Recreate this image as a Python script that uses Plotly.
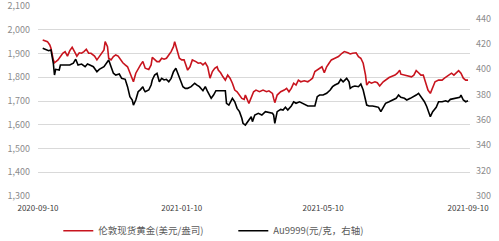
import plotly.graph_objects as go

# London spot gold (USD/oz), left axis
red_dates = ["2020-09-14","2020-09-18","2020-09-20","2020-09-21","2020-09-23","2020-09-24","2020-09-27","2020-09-29",
 "2020-10-01","2020-10-03","2020-10-05","2020-10-07","2020-10-09","2020-10-11","2020-10-13","2020-10-15","2020-10-17",
 "2020-10-19","2020-10-21","2020-10-23","2020-10-25","2020-10-28","2020-10-30","2020-11-01","2020-11-03","2020-11-05",
 "2020-11-06","2020-11-08","2020-11-09","2020-11-11","2020-11-13","2020-11-15","2020-11-17","2020-11-19","2020-11-21",
 "2020-11-23","2020-11-25","2020-11-27","2020-11-29","2020-11-30","2020-12-02","2020-12-04","2020-12-06","2020-12-08",
 "2020-12-10","2020-12-13","2020-12-15","2020-12-16","2020-12-18","2020-12-20","2020-12-22","2020-12-24","2020-12-26",
 "2020-12-28","2020-12-30","2021-01-01","2021-01-03","2021-01-04","2021-01-06","2021-01-08","2021-01-10","2021-01-12",
 "2021-01-13","2021-01-15","2021-01-17","2021-01-19","2021-01-22","2021-01-24","2021-01-26","2021-01-28","2021-01-30",
 "2021-02-01","2021-02-03","2021-02-05","2021-02-07","2021-02-09","2021-02-10","2021-02-12","2021-02-14","2021-02-16",
 "2021-02-18","2021-02-20","2021-02-22","2021-02-24","2021-02-26","2021-02-28","2021-03-02","2021-03-04","2021-03-05",
 "2021-03-08","2021-03-10","2021-03-12","2021-03-14","2021-03-17","2021-03-20","2021-03-23","2021-03-25","2021-03-28",
 "2021-03-29","2021-03-30","2021-04-01","2021-04-04","2021-04-07","2021-04-09","2021-04-11","2021-04-13","2021-04-15",
 "2021-04-17","2021-04-19","2021-04-21","2021-04-24","2021-04-27","2021-04-29","2021-05-01","2021-05-03","2021-05-05",
 "2021-05-07","2021-05-09","2021-05-11","2021-05-13","2021-05-15","2021-05-17","2021-05-20","2021-05-23","2021-05-26",
 "2021-05-28","2021-05-31","2021-06-02","2021-06-04","2021-06-07","2021-06-09","2021-06-11","2021-06-13","2021-06-15",
 "2021-06-16","2021-06-18","2021-06-20","2021-06-23","2021-06-25","2021-06-27","2021-06-30","2021-07-02","2021-07-05",
 "2021-07-08","2021-07-10","2021-07-12","2021-07-14","2021-07-15","2021-07-18","2021-07-21","2021-07-24","2021-07-26",
 "2021-07-28","2021-07-30","2021-08-01","2021-08-03","2021-08-05","2021-08-07","2021-08-09","2021-08-11","2021-08-13",
 "2021-08-16","2021-08-19","2021-08-21","2021-08-23","2021-08-25","2021-08-27","2021-08-29","2021-08-31","2021-09-02",
 "2021-09-04","2021-09-06","2021-09-08","2021-09-10"]
red_values = [1957,1950,1936,1922,1873,1861,1873,1887,
 1901,1908,1889,1912,1926,1908,1889,1903,1901,
 1908,1918,1901,1901,1889,1873,1887,1901,1915,
 1950,1929,1880,1873,1887,1894,1889,1873,1861,
 1852,1844,1819,1791,1781,1817,1838,1852,1866,
 1838,1833,1852,1884,1876,1866,1866,1880,1876,
 1880,1894,1908,1929,1950,1915,1880,1873,1873,
 1859,1830,1844,1873,1866,1859,1861,1852,1861,
 1844,1796,1824,1838,1844,1830,1819,1802,1788,
 1809,1796,1775,1746,1739,1725,1711,1707,1725,
 1690,1711,1739,1746,1739,1746,1739,1743,1732,
 1711,1693,1725,1739,1746,1753,1739,1753,1775,
 1767,1788,1781,1785,1781,1788,1796,1824,1830,
 1838,1844,1819,1844,1859,1873,1880,1887,1901,
 1908,1903,1898,1901,1903,1887,1880,1859,1809,
 1767,1781,1775,1781,1777,1763,1781,1788,1799,
 1805,1809,1817,1830,1813,1809,1805,1802,1809,
 1828,1819,1809,1809,1781,1746,1732,1753,1781,
 1788,1788,1796,1802,1809,1817,1809,1817,1828,
 1817,1796,1788,1788]

# Au9999 (CNY/g), right axis
black_dates = ["2020-09-14","2020-09-17","2020-09-19","2020-09-21","2020-09-23","2020-09-24","2020-09-25","2020-09-28",
 "2020-09-29","2020-10-02","2020-10-07","2020-10-10","2020-10-12","2020-10-14","2020-10-17","2020-10-20","2020-10-22",
 "2020-10-24","2020-10-27","2020-10-30","2020-11-01","2020-11-05","2020-11-08","2020-11-09","2020-11-11","2020-11-13",
 "2020-11-15","2020-11-18","2020-11-20","2020-11-23","2020-11-25","2020-11-27","2020-11-29","2020-11-30","2020-12-02",
 "2020-12-04","2020-12-06","2020-12-08","2020-12-09","2020-12-10","2020-12-13","2020-12-15","2020-12-16","2020-12-18",
 "2020-12-20","2020-12-22","2020-12-24","2020-12-26","2020-12-28","2020-12-30","2021-01-01","2021-01-03","2021-01-05",
 "2021-01-06","2021-01-08","2021-01-10","2021-01-11","2021-01-13","2021-01-15","2021-01-18","2021-01-21","2021-01-23",
 "2021-01-25","2021-01-28","2021-01-30","2021-02-01","2021-02-04","2021-02-06","2021-02-08","2021-02-12","2021-02-16",
 "2021-02-17","2021-02-19","2021-02-22","2021-02-24","2021-02-26","2021-02-28","2021-03-02","2021-03-03","2021-03-05",
 "2021-03-07","2021-03-10","2021-03-11","2021-03-13","2021-03-16","2021-03-19","2021-03-22","2021-03-25","2021-03-28",
 "2021-03-29","2021-03-30","2021-04-01","2021-04-04","2021-04-06","2021-04-08","2021-04-10","2021-04-13","2021-04-15",
 "2021-04-17","2021-04-20","2021-04-22","2021-04-25","2021-04-27","2021-04-30","2021-05-03","2021-05-05","2021-05-07",
 "2021-05-10","2021-05-13","2021-05-16","2021-05-18","2021-05-20","2021-05-23","2021-05-25","2021-05-27","2021-05-30",
 "2021-06-01","2021-06-02","2021-06-04","2021-06-06","2021-06-09","2021-06-11","2021-06-13","2021-06-15","2021-06-16",
 "2021-06-18","2021-06-21","2021-06-24","2021-06-26","2021-06-28","2021-06-30","2021-07-02","2021-07-05","2021-07-08",
 "2021-07-11","2021-07-13","2021-07-15","2021-07-18","2021-07-20","2021-07-23","2021-07-25","2021-07-28","2021-07-30",
 "2021-08-01","2021-08-02","2021-08-04","2021-08-06","2021-08-08","2021-08-09","2021-08-11","2021-08-14","2021-08-16",
 "2021-08-19","2021-08-22","2021-08-24","2021-08-26","2021-08-29","2021-09-01","2021-09-03","2021-09-04","2021-09-06",
 "2021-09-08","2021-09-10"]
black_values = [416.6,415.8,414.7,415.3,404.8,395.5,400.0,399.5,
 403.4,403.4,403.4,404.8,408.0,403.4,404.2,402.1,404.2,
 403.4,402.1,398.1,400.0,402.1,406.0,407.4,402.1,396.9,
 395.5,396.3,392.9,392.1,386.3,378.4,375.8,371.8,375.8,
 382.3,384.0,386.3,383.7,382.3,383.7,387.6,391.6,395.5,
 396.9,390.2,392.9,391.6,392.1,390.2,392.9,398.1,400.8,
 398.1,392.9,389.0,386.3,385.0,385.0,386.3,389.0,387.6,
 386.3,383.1,386.3,382.3,377.1,379.7,383.1,383.1,383.1,
 373.2,371.8,377.1,374.4,369.2,366.6,361.3,357.4,356.0,
 358.7,362.6,358.7,363.9,365.3,363.9,366.6,365.8,365.3,
 363.9,357.4,366.6,368.4,367.9,370.0,367.9,371.1,374.4,
 373.2,374.4,373.6,371.8,371.1,371.1,371.1,378.4,379.7,
 379.7,381.1,383.7,386.3,387.6,389.0,392.1,390.2,392.9,
 390.2,385.0,386.3,386.8,386.3,388.4,383.7,375.8,371.8,
 371.1,371.1,370.5,370.0,366.6,370.5,373.2,374.4,375.8,
 377.1,379.7,377.9,377.1,375.8,377.1,377.9,379.7,381.1,
 378.4,376.3,374.4,370.5,365.3,362.6,366.6,370.0,374.4,
 374.4,375.2,374.4,376.3,377.1,377.9,377.9,379.7,375.8,
 374.4,375.2]

x_ticks = ["2020-09-10", "2021-01-10", "2021-05-10", "2021-09-10"]
left_ticks = [1300, 1400, 1500, 1600, 1700, 1800, 1900, 2000, 2100]
right_ticks = [300, 320, 340, 360, 380, 400, 420, 440]

FONT = "Noto Sans CJK SC, Noto Sans, sans-serif"

fig = go.Figure()
fig.add_trace(go.Scatter(x=red_dates, y=red_values, mode="lines",
                         name="伦敦现货黄金(美元/盎司)",
                         line=dict(color="#c8141e", width=1.6)))
fig.add_trace(go.Scatter(x=black_dates, y=black_values, mode="lines",
                         name="Au9999(元/克，右轴)", yaxis="y2",
                         line=dict(color="#000000", width=1.6)))

fig.update_layout(
    width=499, height=241,
    margin=dict(l=38, r=29, t=6, b=45, autoexpand=False),
    paper_bgcolor="white", plot_bgcolor="white",
    font=dict(family=FONT, size=9, color="#595959"),
    showlegend=True,
    legend=dict(orientation="h", x=0.047, xanchor="left", y=-0.183, yanchor="middle",
                font=dict(size=9.5, color="#595959"), entrywidth=130, entrywidthmode="pixels",
                itemwidth=30, bgcolor="rgba(0,0,0,0)"),
    xaxis=dict(type="date", range=["2020-09-10", "2021-09-11 16:00"],
               tickvals=x_ticks, ticktext=x_ticks, showgrid=False,
               showline=False, ticks="", zeroline=False, ticklabelstandoff=6,
               ticklabeloverflow="allow",
               tickfont=dict(size=8, color="#404040")),
    yaxis=dict(range=[1300, 2100], tickvals=left_ticks, tickformat=",",
               showgrid=True, gridcolor="#d9d9d9", gridwidth=1, zeroline=False,
               ticks="", ticklabelstandoff=7, ticklabeloverflow="allow",
               tickfont=dict(size=9, color="#8c8c8c")),
    yaxis2=dict(range=[300, 450], tickvals=right_ticks, overlaying="y", side="right",
                showgrid=False, zeroline=False, ticks="", ticklabelstandoff=5,
                ticklabeloverflow="allow",
                tickfont=dict(size=9, color="#8c8c8c")),
)

fig.write_html("out.html")
